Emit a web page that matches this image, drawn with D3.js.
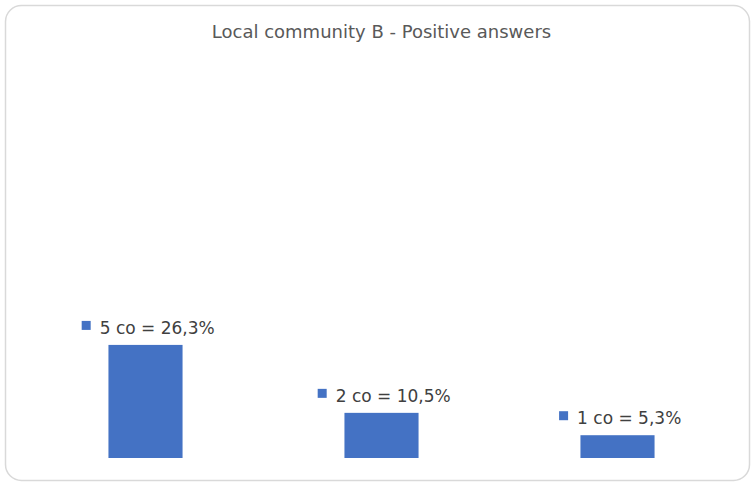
<!DOCTYPE html>
<html><head><meta charset="utf-8">
<script src="https://cdn.jsdelivr.net/npm/d3@7"></script>
<style>body{margin:0;background:#fff}</style>
</head><body>
<svg id="c" width="752" height="482"></svg>
<script>
const categories = ["5 co", "2 co", "1 co"];
const values = [26.3, 10.5, 5.3];
const title = "Local community B - Positive answers";

const svg = d3.select("#c");
const W = 752, H = 482;
svg.append("rect").attr("x", 5.5).attr("y", 5.5).attr("width", W - 8).attr("height", H - 7)
  .attr("rx", 16).attr("fill", "#fff").attr("stroke", "#d9d9d9").attr("stroke-width", 1.5);

svg.append("text").attr("x", 381.5).attr("y", 37.5).attr("text-anchor", "middle")
  .attr("font-family", "DejaVu Sans, Verdana, sans-serif").attr("font-size", 18)
  .attr("fill", "#595959").text(title);

const x = d3.scaleBand().domain(categories).range([27.5, 735.5]).paddingInner(0.686).paddingOuter(0.343);
const y = d3.scaleLinear().domain([0, 30]).range([458, 329]);

const g = svg.append("g");
g.selectAll("rect.bar").data(values).join("rect").attr("class", "bar")
  .attr("x", (d, i) => x(categories[i])).attr("width", x.bandwidth())
  .attr("y", d => y(d)).attr("height", d => y(0) - y(d)).attr("fill", "#4472C4");

const fmt = v => v.toFixed(1).replace(".", ",") + "%";
const lab = g.selectAll("g.lab").data(values).join("g").attr("class", "lab");
lab.each(function (d, i) {
  const gg = d3.select(this);
  const t = gg.append("text").attr("font-family", "DejaVu Sans, Verdana, sans-serif").attr("font-size", 17)
    .attr("fill", "#404040").text(categories[i] + " = " + fmt(d));
  const tw = t.node().getComputedTextLength();
  const total = 9 + 9 + tw;
  const cx = x(categories[i]) + x.bandwidth() / 2 + 2.7;
  const left = cx - total / 2;
  const top = y(d);
  gg.append("rect").attr("x", left).attr("y", top - 24).attr("width", 9).attr("height", 9).attr("fill", "#4472C4");
  t.attr("x", left + 18).attr("y", top - 11);
});
</script>
</body></html>
